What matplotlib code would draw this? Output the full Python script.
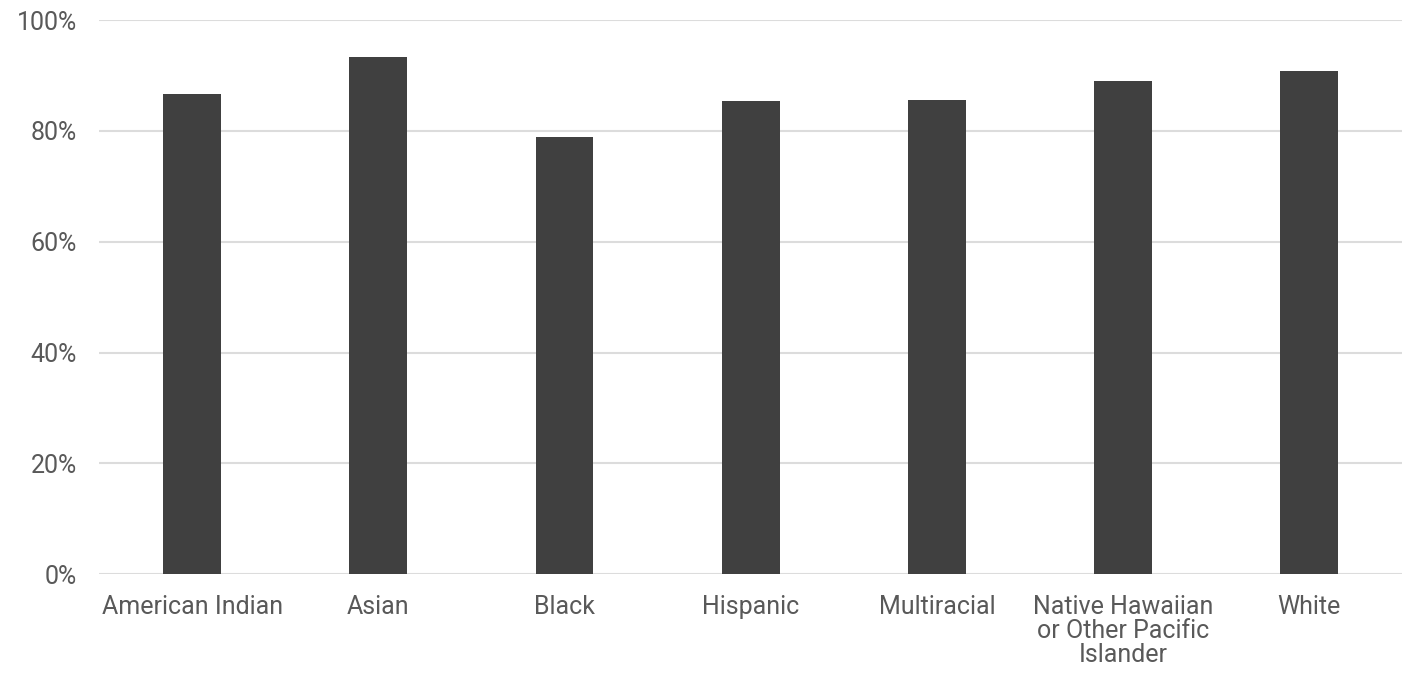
import matplotlib.pyplot as plt
from matplotlib.ticker import PercentFormatter

categories = ["American Indian", "Asian", "Black", "Hispanic", "Multiracial",
              "Native Hawaiian\nor Other Pacific\nIslander", "White"]
values = [86.6, 93.3, 79.0, 85.4, 85.6, 89.0, 90.8]
yticks = [0, 20, 40, 60, 80, 100]

plt.rcParams['font.family'] = ['Roboto', 'DejaVu Sans']

fig = plt.figure(figsize=(14.09, 6.73), dpi=100)
ax = fig.add_axes([0.0703, 0.147, 0.925, 0.823])

x = list(range(len(categories)))
ax.bar(x, values, width=0.31, color="#404040", zorder=3)

ax.set_xlim(-0.5, len(categories) - 0.5)
ax.set_ylim(0, 100)
ax.set_yticks(yticks)
ax.yaxis.set_major_formatter(PercentFormatter(decimals=0))
ax.set_xticks(x)
ax.set_xticklabels(categories, linespacing=1.0, va="top")

ax.grid(axis="y", color="#dcdcdc", linewidth=1.5, zorder=0)
for s in ax.spines.values():
    s.set_visible(False)
ax.tick_params(axis="both", length=0, labelsize=18, colors="#595959")
ax.tick_params(axis="x", pad=15)
ax.tick_params(axis="y", pad=16)

fig.savefig("out.png", dpi=100)
